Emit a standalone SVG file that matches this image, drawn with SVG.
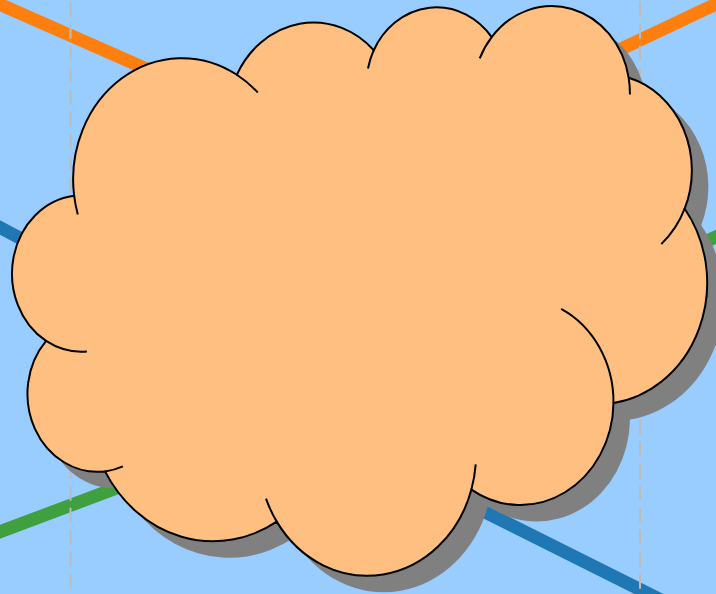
<svg xmlns="http://www.w3.org/2000/svg" width="716" height="594" viewBox="0 0 716 594">
<defs>
<style>
.bg{fill:#99ccff}
.guide{fill:none;stroke:#bbbbbb;stroke-width:2;stroke-dasharray:15 7;stroke-dashoffset:20.3}
.conn{fill:none;stroke-width:13;stroke-linejoin:round;stroke-linecap:butt}
.shadow{fill:#808080;stroke:none}
.body{fill:#ffbf80;stroke:#000000;stroke-width:2;vector-effect:non-scaling-stroke}
.inner{fill:none;stroke:#000000;stroke-width:2;vector-effect:non-scaling-stroke}
</style>
</defs>
<rect class="bg" x="0" y="0" width="716" height="594"/>
<g id="connectors">
<path class="conn" stroke="#ff7f0e" d="M-10 0.1 L371 167.6 L726 -0.7"/>
<path class="conn" stroke="#1f77b4" d="M-10 222.2 L250 360 M400 469.5 L730 634.5"/>
<path class="conn" stroke="#40a040" d="M-10 535.5 L354 399 L726 232.5"/>
</g>
<g id="guides">
<line class="guide" x1="70.5" y1="0" x2="70.5" y2="594"/>
<line class="guide" x1="640" y1="0" x2="640" y2="594"/>
</g>
<g id="cloud">
<g transform="translate(16.5 16.5) matrix(0.01611 0 0 0.013183 11.3 6.3)">
<path class="shadow" d="M3900 14370 A6753 9190 0 0 1 14000 5192 A5333 7267 0 0 1 22500 3331 A4365 5945 0 0 1 29820 2340 A4857 6595 0 0 1 38324 5426 A5333 7273 0 0 1 41798 15354 A6775 9220 0 0 1 37380 30090 A5785 7867 0 0 1 28560 36660 A6752 9215 0 0 1 16478 39090 A7720 10543 0 0 1 5820 35280 A4360 5918 0 0 1 2160 25380 A4345 5945 0 0 1 3900 14370 Z"/>
</g>
<g transform="matrix(0.01611 0 0 0.013183 11.3 6.3)">
<path class="body" d="M3900 14370 A6753 9190 0 0 1 14000 5192 A5333 7267 0 0 1 22500 3331 A4365 5945 0 0 1 29820 2340 A4857 6595 0 0 1 38324 5426 A5333 7273 0 0 1 41798 15354 A6775 9220 0 0 1 37380 30090 A5785 7867 0 0 1 28560 36660 A6752 9215 0 0 1 16478 39090 A7720 10543 0 0 1 5820 35280 A4360 5918 0 0 1 2160 25380 A4345 5945 0 0 1 3900 14370 Z"/>
<path class="inner" d="M4693 26177 A4345 5945 0 0 1 2160 25380"/>
<path class="inner" d="M6928 34899 A4360 5918 0 0 1 5820 35280"/>
<path class="inner" d="M16478 39090 A6752 9215 0 0 1 15810 37350"/>
<path class="inner" d="M28827 34751 A6752 9215 0 0 1 28560 36660"/>
<path class="inner" d="M34129 22954 A5785 7867 0 0 1 37380 30090"/>
<path class="inner" d="M41798 15354 A5333 7273 0 0 1 40350 18030"/>
<path class="inner" d="M38324 5426 A4857 6595 0 0 1 38400 6690"/>
<path class="inner" d="M29078 3952 A4857 6595 0 0 1 29820 2340"/>
<path class="inner" d="M22141 4720 A4365 5945 0 0 1 22500 3331"/>
<path class="inner" d="M14000 5192 A6753 9190 0 0 1 15300 6541"/>
<path class="inner" d="M4127 15789 A6753 9190 0 0 1 3900 14370"/>
</g>
</g>
</svg>
